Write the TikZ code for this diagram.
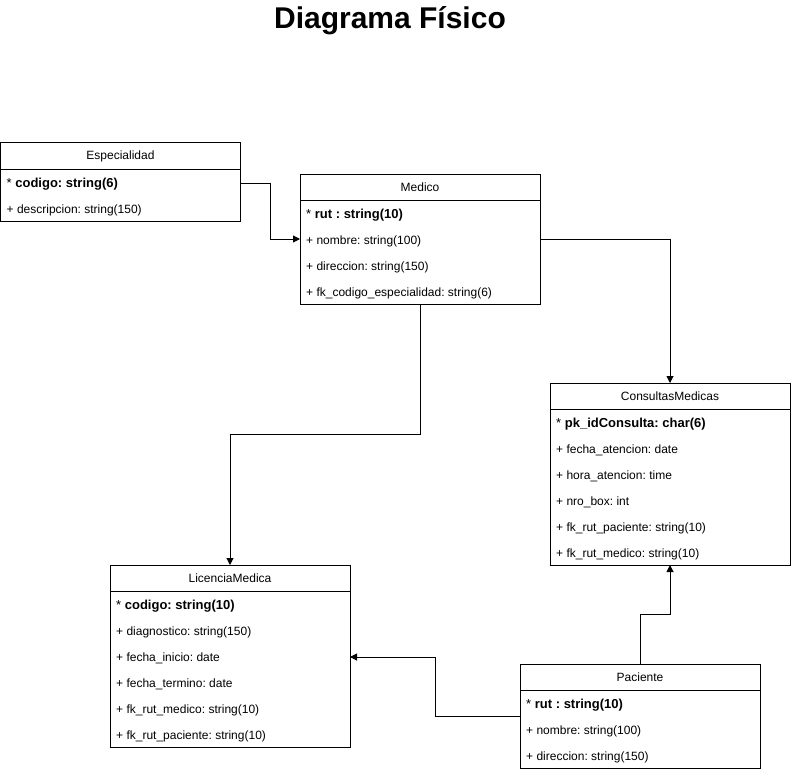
\documentclass[tikz,border=0pt]{standalone}
\usepackage{fontspec}
\setmainfont{Liberation Sans}
\usetikzlibrary{calc,arrows.meta}
\frenchspacing
\tikzset{
  tblbox/.style={draw, line width=1pt, inner sep=0pt, outer sep=0pt, minimum width=240pt, anchor=north west, fill=white},
  tblline/.style={line width=1pt},
  tblhead/.style={inner sep=0pt, anchor=center, font=\fontsize{12}{14}\selectfont},
  rowtxt/.style={inner sep=0pt, anchor=base west, font=\fontsize{12}{14}\selectfont},
  conn/.style={line width=1pt, -{Triangle[length=7pt,width=7pt]}},
  titletxt/.style={inner sep=0pt, anchor=base, font=\fontsize{30}{36}\selectfont\bfseries}
}
\newcommand\dbtable[6]{%
  \node[tblbox, minimum height={26pt*(#4+1)}] (#1) at (#2,#3) {};
  \draw[tblline] (#1.north west) ++(0,26) -- ++(240,0);
  \node[tblhead] (#1-h) at ($(#1.north)+(0,13)$) {#5};
  \foreach \rowtext [count=\i] in {#6} {
    \node[rowtxt] (#1-\i) at ($(#1.north west)+(6,18.3+26*\i)$) {\frenchspacing\rowtext};
  }
}
\newcommand\keyrow[1]{{\fontsize{13}{15}\selectfont\frenchspacing * \textbf{#1}}}
\begin{document}
\begin{tikzpicture}[x=1pt,y=-1pt]
  \fill[white] (0,0) rectangle (791,770);
  \useasboundingbox (0,0) rectangle (791,770);
  \node[titletxt] (title) at (390,29) {Diagrama Físico};

  \dbtable{esp}{0.5}{143}{2}{Especialidad}{{\keyrow{codigo: string(6)}},{+ descripcion: string(150)}}
  \dbtable{med}{300}{174}{4}{Medico}{{\keyrow{rut : string(10)}},{+ nombre: string(100)},{+ direccion: string(150)},{+ fk\_codigo\_especialidad: string(6)}}
  \dbtable{cons}{550}{383}{6}{ConsultasMedicas}{{\keyrow{pk\_idConsulta: char(6)}},{+ fecha\_atencion: date},{+ hora\_atencion: time},{+ nro\_box: int},{+ fk\_rut\_paciente: string(10)},{+ fk\_rut\_medico: string(10)}}
  \dbtable{lic}{110}{565}{6}{LicenciaMedica}{{\keyrow{codigo: string(10)}},{+ diagnostico: string(150)},{+ fecha\_inicio: date},{+ fecha\_termino: date},{+ fk\_rut\_medico: string(10)},{+ fk\_rut\_paciente: string(10)}}
  \dbtable{pac}{520}{664}{3}{Paciente}{{\keyrow{rut : string(10)}},{+ nombre: string(100)},{+ direccion: string(150)}}

  \draw[conn] ($(esp.north east)+(0,40)$) -- ++(30,0) |- ($(med.north west)+(0,65)$);
  \draw[conn] ($(med.north east)+(0,65)$) -| (cons.north);
  \draw[conn] (med.south) -- ++(0,130) -| (lic.north);
  \draw[conn] (pac.north) -- ++(0,-50) -| (cons.south);
  \draw[conn] (pac.west) -- ++(-85,0) |- ($(lic.north east)+(0,92)$);
\end{tikzpicture}
\end{document}
